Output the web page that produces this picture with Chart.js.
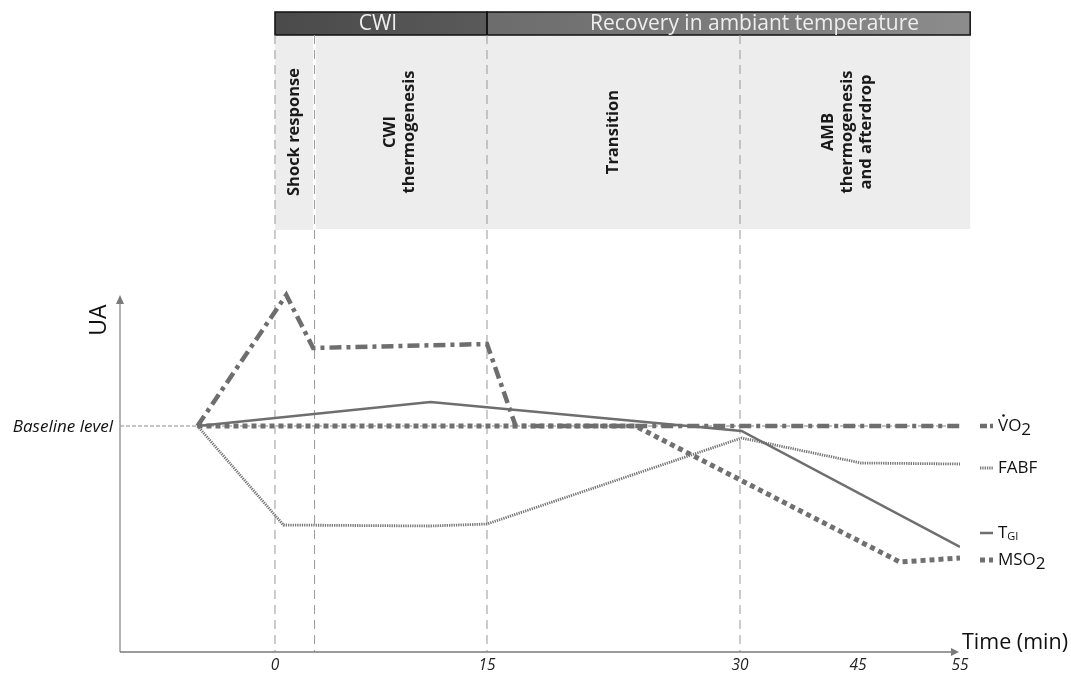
<!DOCTYPE html>
<html>
<head>
<meta charset="utf-8">
<script src="https://cdn.jsdelivr.net/npm/chart.js@4.4.1/dist/chart.umd.min.js"></script>
<style>
  html, body { margin: 0; padding: 0; background: #fff; }
</style>
</head>
<body>
<canvas id="chart" width="1071" height="675"></canvas>
<script>
// ================= DATA =================

const vo2Times = [-5.5, 0.8, 2.7, 15, 16.7, 55];
const vo2Values = [0, 13.1, 7.8, 8.2, 0, 0];

const tgiTimes = [-5.5, 11, 30.2, 55];
const tgiValues = [0, 2.4, -0.5, -12.1];

const fabfTimes = [-5.5, 0.6, 11, 15, 30.2, 45.3, 55];
const fabfValues = [0, -9.9, -10.0, -9.8, -1.2, -3.7, -3.8];

const mso2Times = [-5.5, 23.8, 49.1, 55];
const mso2Values = [0, 0, -13.6, -13.2];

const tickTimes = [0, 15, 30, 45, 55];
const phaseTimes = [0, 2.8, 15, 30];

const phaseLabels = [
    ["Shock response"],
    ["CWI", "thermogenesis"],
    ["Transition"],
    ["AMB", "thermogenesis", "and afterdrop"]
];
const phaseLabelTimes = [1.4, 8.8, 22.5, 43.7];

// ================= STRETCHED TIME AXIS =================
// the time axis is not linear in the figure: each segment has its own width

const axisTimes = [-11, 0, 15, 30, 45, 55];
const axisStops = [0, 0.1845, 0.4369, 0.7381, 0.8786, 1];

function toDecimal(t) {
    let i = 0;
    while (i < axisTimes.length - 2 && t > axisTimes[i + 1]) i++;
    const f = (t - axisTimes[i]) / (axisTimes[i + 1] - axisTimes[i]);
    return axisStops[i] + f * (axisStops[i + 1] - axisStops[i]);
}

function fromDecimal(d) {
    let i = 0;
    while (i < axisStops.length - 2 && d > axisStops[i + 1]) i++;
    const f = (d - axisStops[i]) / (axisStops[i + 1] - axisStops[i]);
    return axisTimes[i] + f * (axisTimes[i + 1] - axisTimes[i]);
}

class StretchScale extends Chart.LinearScale {
    getPixelForValue(value) {
        return this.getPixelForDecimal(toDecimal(value));
    }
    getValueForPixel(pixel) {
        return fromDecimal(this.getDecimalForPixel(pixel));
    }
}
StretchScale.id = "stretch";
StretchScale.defaults = {};
Chart.register(StretchScale);

// ================= HELPERS =================

const pts = (xs, ys) => xs.map((x, i) => ({ x, y: ys[i] }));

const styles = {
    vo2: { color: "#6e6e6e", width: 4.5, dash: [12, 5, 4, 5] },
    tgi: { color: "#6e6e6e", width: 2.5, dash: [] },
    fabf: { color: "#767676", width: 2.8, dash: [1.3, 1] },
    mso2: { color: "#707070", width: 5, dash: [5, 4] }
};

function line(ctx, x1, y1, x2, y2, color, width, dash) {
    ctx.save();
    ctx.strokeStyle = color;
    ctx.lineWidth = width;
    ctx.setLineDash(dash || []);
    ctx.beginPath();
    ctx.moveTo(x1, y1);
    ctx.lineTo(x2, y2);
    ctx.stroke();
    ctx.restore();
}

// ================= BACKGROUND =================

const background = {
    id: "background",
    beforeDatasetsDraw(chart) {
        const ctx = chart.ctx;
        const xs = chart.scales.x;
        const ys = chart.scales.y;
        const area = chart.chartArea;
        const top = area.top;
        const headBottom = top + 23;
        const boxBottom = 229;
        const right = xs.getPixelForValue(56);

        // light phase boxes
        ctx.save();
        ctx.fillStyle = "#ededed";
        ctx.fillRect(xs.getPixelForValue(0), headBottom, xs.getPixelForValue(2.7) - xs.getPixelForValue(0), boxBottom - headBottom + 1);
        ctx.fillRect(xs.getPixelForValue(2.9), headBottom, right - xs.getPixelForValue(2.9), boxBottom - headBottom);

        // header bars
        const x0 = xs.getPixelForValue(0);
        const x15 = xs.getPixelForValue(15);
        let g = ctx.createLinearGradient(x0, 0, x15, 0);
        g.addColorStop(0, "#4a4a4a");
        g.addColorStop(1, "#5a5a5a");
        ctx.fillStyle = g;
        ctx.fillRect(x0, top, x15 - x0, headBottom - top);
        g = ctx.createLinearGradient(x15, 0, right, 0);
        g.addColorStop(0, "#6c6c6c");
        g.addColorStop(1, "#8c8c8c");
        ctx.fillStyle = g;
        ctx.fillRect(x15, top, right - x15, headBottom - top);
        ctx.strokeStyle = "#111";
        ctx.lineWidth = 1.5;
        ctx.strokeRect(x0, top, x15 - x0, headBottom - top);
        ctx.strokeRect(x15, top, right - x15, headBottom - top);

        ctx.fillStyle = "#eeeeee";
        ctx.font = "21px 'Open Sans'";
        ctx.textAlign = "center";
        ctx.textBaseline = "middle";
        ctx.fillText("CWI", (x0 + x15) / 2 - 3, (top + headBottom) / 2 + 1);
        ctx.fillText("Recovery in ambiant temperature", (x15 + right) / 2 + 26, (top + headBottom) / 2 + 1);

        // rotated phase labels
        ctx.fillStyle = "#1a1a1a";
        ctx.font = "bold 16.5px 'Open Sans'";
        phaseLabels.forEach((lines, i) => {
            ctx.save();
            ctx.translate(xs.getPixelForValue(phaseLabelTimes[i]), 132);
            ctx.rotate(-Math.PI / 2);
            lines.forEach((txt, j) => {
                ctx.fillText(txt, 0, (j - (lines.length - 1) / 2) * 19);
            });
            ctx.restore();
        });
        ctx.restore();

        // phase separators
        phaseTimes.forEach(t => {
            const px = xs.getPixelForValue(t);
            line(ctx, px, headBottom, px, area.bottom, "#999999", 1, [9, 6]);
        });

        // baseline
        const yb = ys.getPixelForValue(0);
        line(ctx, area.left, yb, area.right, yb, "#8a8a8a", 1, [4, 2]);

        // axes
        line(ctx, area.left, area.bottom, area.left, 302, "#9a9a9a", 1.5);
        line(ctx, area.left, area.bottom, area.right - 6, area.bottom, "#7a7a7a", 1.5);
        ctx.save();
        ctx.fillStyle = "#7a7a7a";
        ctx.beginPath();
        ctx.moveTo(area.left, 295);
        ctx.lineTo(area.left - 4, 304);
        ctx.lineTo(area.left + 4, 304);
        ctx.closePath();
        ctx.fill();
        ctx.beginPath();
        ctx.moveTo(area.right - 1, area.bottom);
        ctx.lineTo(area.right - 9, area.bottom - 4);
        ctx.lineTo(area.right - 9, area.bottom + 4);
        ctx.closePath();
        ctx.fill();

        // axis texts
        ctx.fillStyle = "#111";
        ctx.font = "italic 17px 'Open Sans'";
        ctx.textAlign = "right";
        ctx.textBaseline = "middle";
        ctx.fillText("Baseline level", area.left - 7, yb + 1);

        ctx.textAlign = "center";
        ctx.fillStyle = "#222";
        ctx.font = "italic 15.5px 'Open Sans'";
        tickTimes.forEach(t => {
            ctx.fillText(String(t), xs.getPixelForValue(t), area.bottom + 14);
        });

        ctx.fillStyle = "#111";
        ctx.font = "21.5px 'Open Sans'";
        ctx.textAlign = "left";
        ctx.fillText("Time (min)", area.right + 2, area.bottom - 9);

        ctx.save();
        ctx.translate(99, 320);
        ctx.rotate(-Math.PI / 2);
        ctx.font = "23px 'Open Sans'";
        ctx.textAlign = "center";
        ctx.fillText("UA", 0, 0);
        ctx.restore();
        ctx.restore();
    }
};

// ================= LEGEND =================

const sideLegend = {
    id: "sideLegend",
    afterDatasetsDraw(chart) {
        const ctx = chart.ctx;
        const ys = chart.scales.y;
        const x1 = 980;
        const x2 = 993;
        const tx = 998;

        const items = [
            { key: "vo2", y: ys.getPixelForValue(0), main: "VO", sub: "2", small: false, dot: true },
            { key: "fabf", y: 468, main: "FABF", sub: "", small: false },
            { key: "tgi", y: 533, main: "T", sub: "GI", small: true },
            { key: "mso2", y: 560, main: "MSO", sub: "2", small: false }
        ];

        ctx.save();
        ctx.textBaseline = "middle";
        ctx.textAlign = "left";
        items.forEach(it => {
            const s = styles[it.key];
            line(ctx, x1, it.y, x2, it.y, s.color, s.key === "fabf" ? 3 : s.width, it.key === "vo2" ? [7, 3, 3, 3] : s.dash);

            ctx.fillStyle = "#111";
            ctx.font = "17px 'Open Sans'";
            ctx.fillText(it.main, tx, it.y);
            const w = ctx.measureText(it.main).width;
            if (it.dot) {
                ctx.beginPath();
                ctx.arc(tx + 5.5, it.y - 10.5, 1.3, 0, Math.PI * 2);
                ctx.fill();
            }
            if (it.sub) {
                if (it.small) {
                    ctx.font = "11px 'Open Sans'";
                    ctx.fillText(it.sub, tx + w, it.y + 4);
                } else {
                    ctx.fillText(it.sub, tx + w, it.y + 4);
                }
            }
        });
        ctx.restore();
    }
};

// ================= CHART =================

const mk = (label, key, data) => ({
    label,
    data,
    borderColor: styles[key].color,
    borderWidth: styles[key].width,
    borderDash: styles[key].dash,
    borderCapStyle: "butt",
    pointRadius: 0,
    tension: 0,
    fill: false
});

new Chart(document.getElementById("chart").getContext("2d"), {
    type: "line",
    data: {
        datasets: [
            mk("VO2", "vo2", pts(vo2Times, vo2Values)),
            mk("TGI", "tgi", pts(tgiTimes, tgiValues)),
            mk("FABF", "fabf", pts(fabfTimes, fabfValues)),
            mk("MSO2", "mso2", pts(mso2Times, mso2Values))
        ]
    },
    options: {
        responsive: false,
        animation: false,
        layout: { padding: { left: 120, right: 111, top: 12, bottom: 23 } },
        plugins: {
            legend: { display: false },
            tooltip: { enabled: false }
        },
        scales: {
            x: { type: "stretch", min: -11, max: 55, display: false },
            y: { type: "linear", min: -22.6, max: 41.4, display: false }
        }
    },
    plugins: [background, sideLegend]
});
</script>
</body>
</html>
